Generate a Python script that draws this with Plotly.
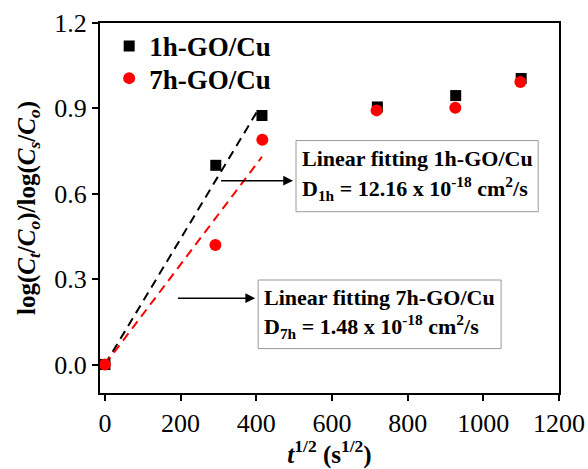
import plotly.graph_objects as go

# measured points
t_half_1h = [0, 293, 415, 720, 927, 1100]
ratio_1h = [0.0, 0.70, 0.875, 0.905, 0.945, 1.005]
t_half_7h = [0, 292, 416, 718, 926, 1098]
ratio_7h = [0.0, 0.42, 0.79, 0.893, 0.902, 0.993]

# linear fit segments (start, end)
fit_x_1h = [0, 405]
fit_y_1h = [0.0, 0.895]
fit_x_7h = [0, 415]
fit_y_7h = [0.0, 0.73]

FONT = "Liberation Serif"

fig = go.Figure()

fig.add_trace(go.Scatter(x=fit_x_1h, y=fit_y_1h, mode="lines",
                         line=dict(color="black", width=2, dash="9px,6px"),
                         showlegend=False, hoverinfo="skip"))
fig.add_trace(go.Scatter(x=fit_x_7h, y=fit_y_7h, mode="lines",
                         line=dict(color="#ff0000", width=2, dash="9px,6px"),
                         showlegend=False, hoverinfo="skip"))
fig.add_trace(go.Scatter(x=t_half_1h, y=ratio_1h, mode="markers", name="<b>1h-GO/Cu</b>",
                         marker=dict(symbol="square", size=11, color="black"),
                         legend="legend"))
fig.add_trace(go.Scatter(x=t_half_7h, y=ratio_7h, mode="markers", name="<b>7h-GO/Cu</b>",
                         marker=dict(symbol="circle", size=12, color="#ff0000"),
                         legend="legend2"))

box_font = dict(family=FONT, size=22, color="black")

# fit result boxes: frame + two text lines each
fit_boxes = [
    dict(x0=505, x1=1145, y0=0.537, y1=0.787,
         lines=["<b>Linear fitting 1h-GO/Cu</b>",
                "<b>D<sub>1h</sub> = 12.16 x 10<sup>-18</sup> cm<sup>2</sup>/s</b>"],
         ys=[0.725, 0.618]),
    dict(x0=405, x1=1047, y0=0.056, y1=0.297,
         lines=["<b>Linear fitting 7h-GO/Cu</b>",
                "<b>D<sub>7h</sub> = 1.48 x 10<sup>-18</sup> cm<sup>2</sup>/s</b>"],
         ys=[0.237, 0.133]),
]
for b in fit_boxes:
    fig.add_shape(type="rect", xref="x", yref="y", x0=b["x0"], x1=b["x1"],
                  y0=b["y0"], y1=b["y1"], line=dict(color="#9a9a9a", width=1),
                  fillcolor="white", layer="above")
    for txt, yy in zip(b["lines"], b["ys"]):
        fig.add_annotation(x=b["x0"] + 10, y=yy, xref="x", yref="y", showarrow=False,
                           xanchor="left", yanchor="middle", text=txt, font=box_font)

# arrows pointing to the fit boxes
fig.add_annotation(x=497, y=0.646, ax=303, ay=0.646, xref="x", yref="y",
                   axref="x", ayref="y", text="", showarrow=True,
                   arrowhead=2, arrowsize=1.3, arrowwidth=1.5, arrowcolor="black")
fig.add_annotation(x=397, y=0.233, ax=189, ay=0.233, xref="x", yref="y",
                   axref="x", ayref="y", text="", showarrow=True,
                   arrowhead=2, arrowsize=1.3, arrowwidth=1.5, arrowcolor="black")

axis_common = dict(showline=True, linecolor="black", linewidth=2, mirror=True,
                   ticks="outside", ticklen=6, tickwidth=2, tickcolor="black",
                   showgrid=False, zeroline=False, automargin=False,
                   tickfont=dict(family=FONT, size=26, color="black"))

fig.update_xaxes(range=[-13, 1200], tickvals=[0, 200, 400, 600, 800, 1000, 1200],
                 title=dict(text="<b><i>t</i><sup>1/2</sup> (s<sup>1/2</sup>)</b>",
                            font=dict(family=FONT, size=25, color="black"), standoff=4),
                 **axis_common)
fig.update_yaxes(range=[-0.1, 1.2], tickvals=[0.0, 0.3, 0.6, 0.9, 1.2],
                 ticktext=["0.0", "0.3", "0.6", "0.9", "1.2"],
                 title=dict(text="<b>log(<i>C</i><sub><i>t</i></sub>/<i>C</i><sub><i>o</i></sub>)/log(<i>C</i><sub><i>s</i></sub>/<i>C</i><sub><i>o</i></sub>)</b>",
                            font=dict(family=FONT, size=25, color="black"), standoff=12),
                 **axis_common)

legend_style = dict(xanchor="left", yanchor="top",
                    font=dict(family=FONT, size=27, color="black"),
                    bgcolor="rgba(0,0,0,0)", itemwidth=30)
fig.update_layout(
    width=588, height=469,
    margin=dict(l=100, r=29, t=23, b=76),
    plot_bgcolor="white", paper_bgcolor="white",
    legend=dict(x=0.02, y=1.003, **legend_style),
    legend2=dict(x=0.02, y=0.916, **legend_style),
)

fig.write_html("out.html")
